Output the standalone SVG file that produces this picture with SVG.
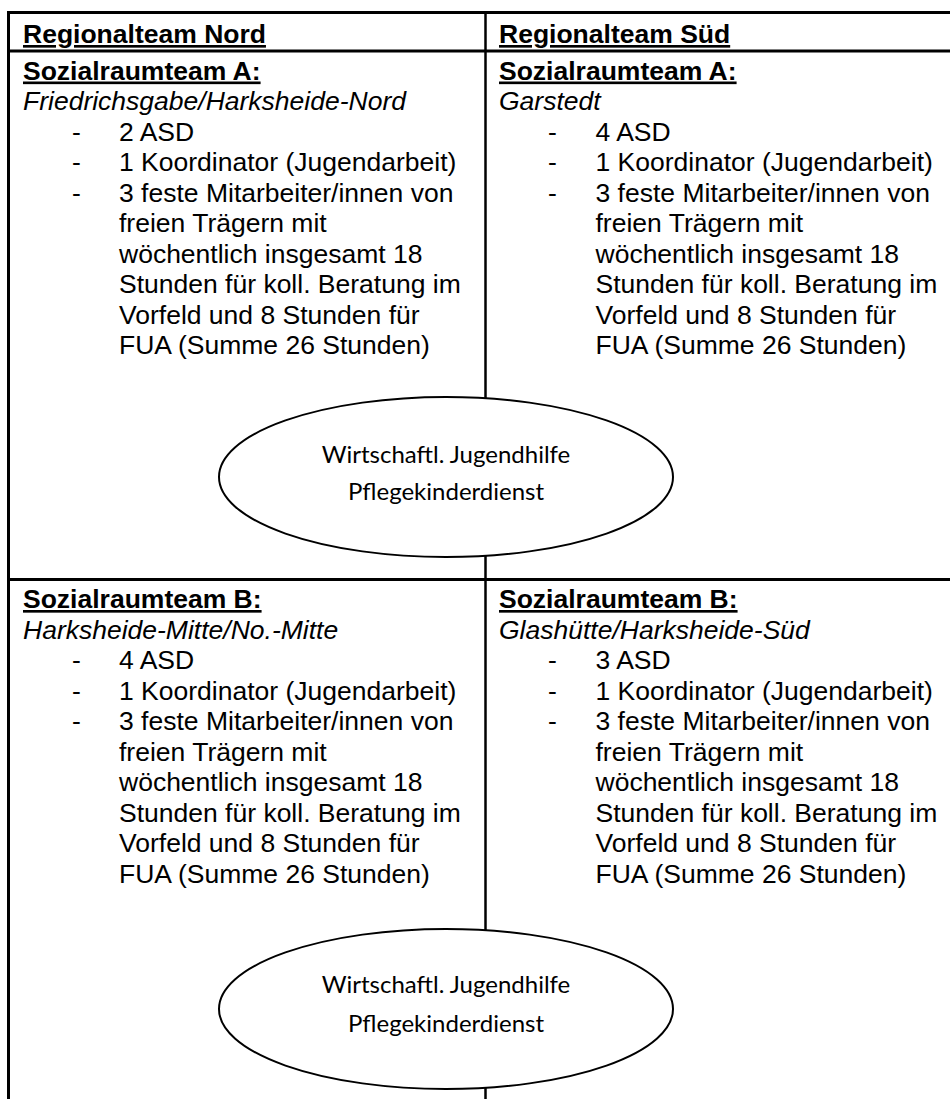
<svg xmlns="http://www.w3.org/2000/svg" width="950" height="1099" viewBox="0 0 950 1099">
<style>
.t{font-family:"Liberation Sans",Arial,sans-serif;font-size:26.5px;fill:#000}
.h{font-weight:bold;text-decoration:underline}
.i{font-style:italic}
.e{font-family:Lato,"Open Sans",sans-serif;font-size:24px;fill:#000;text-anchor:middle}
.ln{stroke:#000;stroke-width:3;fill:none}
.el{fill:#fff;stroke:#000;stroke-width:2}
</style>
<rect width="950" height="1099" fill="#fff"/>
<g id="grid">
<line class="ln" x1="7" y1="12.5" x2="950" y2="12.5"/>
<line class="ln" x1="7" y1="51" x2="950" y2="51"/>
<line class="ln" x1="7" y1="579.5" x2="950" y2="579.5"/>
<line class="ln" x1="8.5" y1="11" x2="8.5" y2="1099"/>
</g>
<g id="connectors">
<line class="ln" style="stroke-width:2.5" x1="485.5" y1="11" x2="485.5" y2="1099"/>
</g>
<g id="header-nord"><text class="t h" x="23" y="43">Regionalteam Nord</text></g>
<g id="header-sued"><text class="t h" x="499" y="43">Regionalteam Süd</text></g>
<g id="nord-a">
<text class="t h" x="23" y="79.5">Sozialraumteam A:</text>
<text class="t i" x="23" y="110">Friedrichsgabe/Harksheide-Nord</text>
<text class="t" x="72" y="140.5">-</text><text class="t" x="119" y="140.5">2 ASD</text>
<text class="t" x="72" y="171">-</text><text class="t" x="119" y="171">1 Koordinator (Jugendarbeit)</text>
<text class="t" x="72" y="201.5">-</text><text class="t" x="119" y="201.5">3 feste Mitarbeiter/innen von</text>
<text class="t" x="119" y="232">freien Trägern mit</text>
<text class="t" x="119" y="262.5">wöchentlich insgesamt 18</text>
<text class="t" x="119" y="293">Stunden für koll. Beratung im</text>
<text class="t" x="119" y="323.5">Vorfeld und 8 Stunden für</text>
<text class="t" x="119" y="354">FUA (Summe 26 Stunden)</text>
</g>
<g id="sued-a">
<text class="t h" x="499" y="79.5">Sozialraumteam A:</text>
<text class="t i" x="499" y="110">Garstedt</text>
<text class="t" x="548" y="140.5">-</text><text class="t" x="595.5" y="140.5">4 ASD</text>
<text class="t" x="548" y="171">-</text><text class="t" x="595.5" y="171">1 Koordinator (Jugendarbeit)</text>
<text class="t" x="548" y="201.5">-</text><text class="t" x="595.5" y="201.5">3 feste Mitarbeiter/innen von</text>
<text class="t" x="595.5" y="232">freien Trägern mit</text>
<text class="t" x="595.5" y="262.5">wöchentlich insgesamt 18</text>
<text class="t" x="595.5" y="293">Stunden für koll. Beratung im</text>
<text class="t" x="595.5" y="323.5">Vorfeld und 8 Stunden für</text>
<text class="t" x="595.5" y="354">FUA (Summe 26 Stunden)</text>
</g>
<g id="ellipse-a">
<ellipse class="el" cx="446" cy="477" rx="227" ry="80"/>
<text class="e" x="446" y="463">Wirtschaftl. Jugendhilfe</text>
<text class="e" x="446" y="500">Pflegekinderdienst</text>
</g>
<g id="nord-b">
<text class="t h" x="23" y="608">Sozialraumteam B:</text>
<text class="t i" x="23" y="638.5">Harksheide-Mitte/No.-Mitte</text>
<text class="t" x="72" y="669">-</text><text class="t" x="119" y="669">4 ASD</text>
<text class="t" x="72" y="699.5">-</text><text class="t" x="119" y="699.5">1 Koordinator (Jugendarbeit)</text>
<text class="t" x="72" y="730">-</text><text class="t" x="119" y="730">3 feste Mitarbeiter/innen von</text>
<text class="t" x="119" y="760.5">freien Trägern mit</text>
<text class="t" x="119" y="791">wöchentlich insgesamt 18</text>
<text class="t" x="119" y="821.5">Stunden für koll. Beratung im</text>
<text class="t" x="119" y="852">Vorfeld und 8 Stunden für</text>
<text class="t" x="119" y="882.5">FUA (Summe 26 Stunden)</text>
</g>
<g id="sued-b">
<text class="t h" x="499" y="608">Sozialraumteam B:</text>
<text class="t i" x="499" y="638.5">Glashütte/Harksheide-Süd</text>
<text class="t" x="548" y="669">-</text><text class="t" x="595.5" y="669">3 ASD</text>
<text class="t" x="548" y="699.5">-</text><text class="t" x="595.5" y="699.5">1 Koordinator (Jugendarbeit)</text>
<text class="t" x="548" y="730">-</text><text class="t" x="595.5" y="730">3 feste Mitarbeiter/innen von</text>
<text class="t" x="595.5" y="760.5">freien Trägern mit</text>
<text class="t" x="595.5" y="791">wöchentlich insgesamt 18</text>
<text class="t" x="595.5" y="821.5">Stunden für koll. Beratung im</text>
<text class="t" x="595.5" y="852">Vorfeld und 8 Stunden für</text>
<text class="t" x="595.5" y="882.5">FUA (Summe 26 Stunden)</text>
</g>
<g id="ellipse-b">
<ellipse class="el" cx="446" cy="1009" rx="227" ry="80"/>
<text class="e" x="446" y="992.5">Wirtschaftl. Jugendhilfe</text>
<text class="e" x="446" y="1031.5">Pflegekinderdienst</text>
</g>
</svg>
